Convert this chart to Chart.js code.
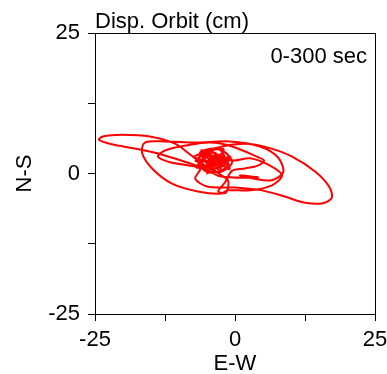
<!DOCTYPE html>
<html>
<head>
<meta charset="utf-8">
<script src="https://cdn.jsdelivr.net/npm/chart.js@4/dist/chart.umd.min.js"></script>
<style>
  html, body { margin: 0; padding: 0; background: #fff; }
  #orbit { display: block; }
</style>
</head>
<body>
<canvas id="orbit" width="387" height="374"></canvas>
<script>
// ---------------------------------------------------------------------------
// Data (cm), read off the reference orbit, in time order
// ---------------------------------------------------------------------------

const ewDisp = [
  -4.1, -6.25, -3.6, -1.25, -1.8, -4.8, -6.6, -5.4, -2.3, -0.5, -3.0,
  -7.1, -10.7, -15.2, -20.2, -23.6, -24.3, -22.0, -17.9, -13.9, -8.0, -5.4,
  -2.7, 4.1, 0.9, 6.25, 8.6, 7.7, 4.45, -0.9, -7.1, -12.5, -16.1, -16.6,
  -14.8, -11.25, -6.6, -2.7, -1.25, 2.7, 6.6, 8.4, 6.25, 2.7, -0.5,
  -4.5, -1.6, -3.6, -5.7, -6.25,
  -2.3, 1.8, 5.9, 10.2, 14.3, 16.8, 17.3, 15.7, 12.5, 8.9, 4.8, 0, -5.0,
  -7.1, -6.25, -11.6, -13.75, -12.5, -8.6, -4.5, -0.5,
  3.9, 5.2, 4.1, 1.8, -0.5, -1.8, -3.0, -1.6, -1.25, -3.6,
  -4.8, -2.3, -1.8, -4.1, -5.4, -3.6, -2.7, -4.5, -3.9, -3.0, -3.6,
  -7.3, -2.0, -5.0, -0.8, -6.8, -3.2, -1.0, -6.0, -2.5, -4.0, -7.0,
  -1.5, -5.2, -3.0, -4.4, -2.2, -5.8, -3.4
];
const nsDisp = [
  2.3, 3.7, 4.45, 3.2, 0.9, 0.2, 2.0, 4.1, 4.1, 2.0, 0.2,
  2.7, 5.3, 6.6, 6.9, 6.6, 6.0, 5.2, 4.45, 3.6, 1.8, 0.9,
  -0.5, -0.7, -0.35, -1.25, 0.2, 2.85, 4.8, 5.7, 5.5, 5.7, 5.5, 3.7,
  0.9, -1.8, -3.2, -3.6, -3.0, -3.0, -2.1, -0.35, 1.4, 2.7, 2.3,
  3.2, 2.7, 1.4, 1.25, 3.2,
  4.8, 5.3, 4.6, 3.0, 0.35, -2.3, -4.3, -5.3, -5.2, -4.1, -3.0, -2.5, -2.3,
  -0.9, 0.9, 2.0, 3.0, 4.1, 5.0, 5.5, 4.8,
  3.0, 2.3, 1.4, 0.9, 0.5, -1.6, -3.2, -3.4, -1.25, 0.5,
  2.3, 3.4, 1.6, 0.9, 2.7, 3.7, 2.0, 1.6, 2.7, 2.5, 2.0,
  3.0, 4.3, 0.0, 3.0, 1.0, 4.6, 0.8, 4.2, 0.3, 3.9, 2.2,
  2.2, 1.0, 3.2, 0.8, 2.9, 2.9, 1.2
];

const axisTicks = [-25, -12.5, 0, 12.5, 25];
const tickLabels = ["-25", "", "0", "", "25"];

const chartTitle = "Disp. Orbit (cm)";
const timeWindow = "0-300 sec";

// ---------------------------------------------------------------------------
// Helpers
// ---------------------------------------------------------------------------

const FONT = "'Liberation Sans', Arial, Helvetica, sans-serif";

function fixedTicks(scale) {
  scale.ticks = axisTicks.map((v) => ({ value: v }));
}

// box round the plot and the two captions
const framePlugin = {
  id: "frame",
  afterDraw(chart) {
    const { ctx, chartArea: a } = chart;
    ctx.save();
    ctx.strokeStyle = "#000";
    ctx.lineWidth = 1;
    ctx.strokeRect(Math.round(a.left) + 0.5, Math.round(a.top) + 0.5,
                   Math.round(a.right - a.left), Math.round(a.bottom - a.top));
    ctx.fillStyle = "#000";
    ctx.font = "22px " + FONT;
    ctx.textBaseline = "alphabetic";
    ctx.textAlign = "left";
    ctx.fillText(chartTitle, a.left, 28);
    ctx.textAlign = "right";
    ctx.fillText(timeWindow, a.right - 8, 63);
    ctx.restore();
  },
};

// ---------------------------------------------------------------------------
// Chart
// ---------------------------------------------------------------------------

const axisStyle = {
  type: "linear",
  min: -25,
  max: 25,
  afterBuildTicks: fixedTicks,
  grid: { drawOnChartArea: false, drawTicks: true, tickLength: 7, color: "#000", lineWidth: 1 },
  border: { display: true, color: "#000", width: 1 },
  ticks: {
    autoSkip: false,
    maxRotation: 0,
    color: "#000",
    font: { family: FONT, size: 22 },
    callback: (v, i) => tickLabels[i],
  },
};

new Chart(document.getElementById("orbit"), {
  type: "scatter",
  data: {
    datasets: [{
      data: ewDisp.map((x, i) => ({ x, y: nsDisp[i] })),
      showLine: true,
      borderColor: "#ff0000",
      borderWidth: 2,
      pointRadius: 0,
      tension: 0.3,
    }],
  },
  plugins: [framePlugin],
  options: {
    responsive: false,
    animation: false,
    layout: { padding: { top: 33, right: 12, left: 0, bottom: 0 } },
    plugins: { legend: { display: false }, tooltip: { enabled: false } },
    scales: {
      x: {
        ...axisStyle,
        position: "bottom",
        afterFit: (s) => { s.height = 60; s.paddingLeft = 0; s.paddingRight = 0; },
        ticks: { ...axisStyle.ticks, padding: 6 },
        title: {
          display: true, text: "E-W", color: "#000",
          font: { family: FONT, size: 22, lineHeight: 0.9 },
          padding: 0,
        },
      },
      y: {
        ...axisStyle,
        position: "left",
        afterFit: (s) => { s.width = 95; s.paddingTop = 0; s.paddingBottom = 0; },
        ticks: { ...axisStyle.ticks, padding: 8 },
        title: {
          display: true, text: "N-S", color: "#000",
          font: { family: FONT, size: 22, lineHeight: 0.9 },
          padding: { top: 15, bottom: 0 },
        },
      },
    },
  },
});
</script>
</body>
</html>
